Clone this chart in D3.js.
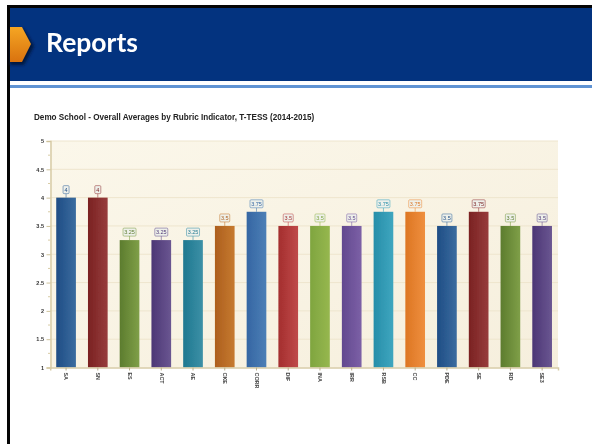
<!DOCTYPE html>
<html><head><meta charset="utf-8">
<style>html,body{margin:0;padding:0;background:#fff;overflow:hidden}svg{display:block}</style>
<script src="https://cdn.jsdelivr.net/npm/d3@7"></script></head><body>
<svg id="c" width="592" height="444"></svg>
<script>
const categories=["SA","SN","ES","ACT","AE","CKE","CORR","DIF","INA","IRR","RSB","CC","PDE","SE","RD","SE3"];
const values=[4,4,3.25,3.25,3.25,3.5,3.75,3.5,3.5,3.5,3.75,3.75,3.5,3.75,3.5,3.5];
const yTicks=[1,1.5,2,2.5,3,3.5,4,4.5,5];
const darkColors=["#1f4d85","#7a2222","#5c7c2e","#4c3675","#1f7890","#ad5f1e","#3566a3","#a42e2e","#7fa53f","#62498f","#268ea9","#dd7623","#1f4d85","#7a2222","#5c7c2e","#4c3675"];
const lightColors=["#3b6c9f","#973c3c","#7f9f48","#6a5691","#3c90a6","#c67a30","#4d7fb6","#bf4a4a","#96b74f","#7c60a6","#3fa6bf","#ef8f3e","#3b6c9f","#973c3c","#7f9f48","#6a5691"];
const chartTitle="Demo School - Overall Averages by Rubric Indicator, T-TESS (2014-2015)";
const slideTitle="Reports";

const svg=d3.select("#c"),defs=svg.append("defs");
const blur=(id,s)=>defs.append("filter").attr("id",id).attr("x","-10%").attr("y","-10%").attr("width","120%").attr("height","120%")
  .append("feGaussianBlur").attr("stdDeviation",s);
blur("soft",0.7);blur("softer",0.5);blur("faint",0.35);

// slide chrome
svg.append("rect").attr("x",7).attr("y",5).attr("width",585).attr("height",3).attr("fill","#050505");
svg.append("rect").attr("x",7).attr("y",5).attr("width",3).attr("height",439).attr("fill","#050505");
svg.append("rect").attr("x",10).attr("y",8).attr("width",582).attr("height",73).attr("fill","#03337f");
svg.append("rect").attr("x",10).attr("y",85).attr("width",582).attr("height",3).attr("fill","#5f93d3");
const ig=defs.append("linearGradient").attr("id","hex").attr("x1",0).attr("x2",0).attr("y1",0).attr("y2",1);
ig.append("stop").attr("offset",0).attr("stop-color","#f5a623");
ig.append("stop").attr("offset",1).attr("stop-color","#d9720f");
blur("sh",1.6);
svg.append("path").attr("d","M10,29H24L34,46L24,65H10Z").attr("fill","#01183f").attr("filter","url(#sh)");
svg.append("path").attr("d","M10,27H22L31,44L22,62H10Z").attr("fill","url(#hex)");
svg.append("text").attr("x",46).attr("y",52).text(slideTitle).attr("filter","url(#faint)")
  .attr("font-family","Lato,sans-serif").attr("font-weight",700).attr("font-size",26.5).attr("fill","#fff");

svg.append("text").attr("x",34).attr("y",120).text(chartTitle).attr("filter","url(#softer)")
  .attr("font-family","'Liberation Sans',sans-serif").attr("font-weight",700).attr("font-size",8.15).attr("fill","#222");

// chart
const x=d3.scaleBand().domain(categories).range([50.2,558]).paddingInner(0.38).paddingOuter(0.19);
const y=d3.scaleLinear().domain([1,5]).range([367.5,141]);
const g=svg.append("g").attr("filter","url(#soft)");

const bg=defs.append("linearGradient").attr("id","plot").attr("x1",0).attr("x2",1).attr("y1",0).attr("y2",1);
bg.append("stop").attr("offset",0).attr("stop-color","#fbf7ea");
bg.append("stop").attr("offset",1).attr("stop-color","#f6efdd");
g.append("rect").attr("x",50.2).attr("y",y(5)).attr("width",507.8).attr("height",y(1)-y(5)).attr("fill","url(#plot)");

g.append("g").selectAll("line").data(yTicks.slice(1)).join("line")
  .attr("x1",50).attr("x2",558).attr("y1",d=>y(d)).attr("y2",d=>y(d)).attr("stroke","#eee5cd").attr("stroke-width",1);

const yAxis=d3.axisLeft(y).tickValues(yTicks).tickSize(4).tickFormat(d3.format("~g"));
const ya=g.append("g").attr("transform","translate(50.5,0)").call(yAxis);
ya.select(".domain").attr("stroke","#d8cca6").attr("stroke-width",1.5);
ya.selectAll(".tick line").attr("stroke","#cfc39c");
ya.selectAll("text").attr("x",-6.5).attr("font-family","'Liberation Sans',sans-serif").attr("font-size",5.5).attr("font-weight",700).attr("fill","#333");
// minor ticks
g.append("g").selectAll("line").data(yTicks.slice(1).map(d=>d-0.25)).join("line")
  .attr("x1",48).attr("x2",50).attr("y1",d=>y(d)).attr("y2",d=>y(d)).attr("stroke","#d8cca6");

categories.forEach((c,i)=>{
  const gr=defs.append("linearGradient").attr("id","b"+i);
  gr.append("stop").attr("offset",0).attr("stop-color",darkColors[i]);
  gr.append("stop").attr("offset",1).attr("stop-color",lightColors[i]);
});
g.append("g").selectAll("rect").data(categories).join("rect")
  .attr("x",d=>x(d)).attr("width",x.bandwidth())
  .attr("y",(d,i)=>y(values[i])).attr("height",(d,i)=>y(1)-y(values[i]))
  .attr("fill",(d,i)=>`url(#b${i})`);

const xAxis=d3.axisBottom(x).tickSize(3);
const xa=g.append("g").attr("transform","translate(0,367.5)").call(xAxis);
xa.select(".domain").attr("stroke","#d8cca6").attr("stroke-width",1.5);
xa.selectAll(".tick line").attr("stroke","#bbb08c");
xa.selectAll("text").attr("transform","rotate(90)").attr("text-anchor","start").attr("x",5).attr("y",0).attr("dy","0.32em")
  .attr("font-family","'Liberation Sans',sans-serif").attr("font-size",5.4).attr("font-weight",700).attr("fill","#444");

// value callouts
const lab=g.append("g").selectAll("g").data(categories).join("g")
  .attr("transform",(d,i)=>`translate(${x(d)+x.bandwidth()/2},${y(values[i])})`);
lab.append("line").attr("y1",0).attr("y2",-4).attr("stroke",(d,i)=>lightColors[i]).attr("stroke-opacity",0.6);
const boxW=i=>values[i]===Math.floor(values[i])?6:(values[i]===3.5?10:13);
lab.append("rect").attr("x",(d,i)=>-boxW(i)/2).attr("width",(d,i)=>boxW(i)).attr("y",-12).attr("height",8)
  .attr("rx",1).attr("fill","#eef0ea").attr("stroke",(d,i)=>lightColors[i]).attr("stroke-opacity",0.55).attr("stroke-width",1);
lab.append("text").attr("text-anchor","middle").attr("y",-5.9).text((d,i)=>values[i])
  .attr("font-family","'Liberation Sans',sans-serif").attr("font-size",5.5).attr("fill",(d,i)=>darkColors[i]);
</script></body></html>
